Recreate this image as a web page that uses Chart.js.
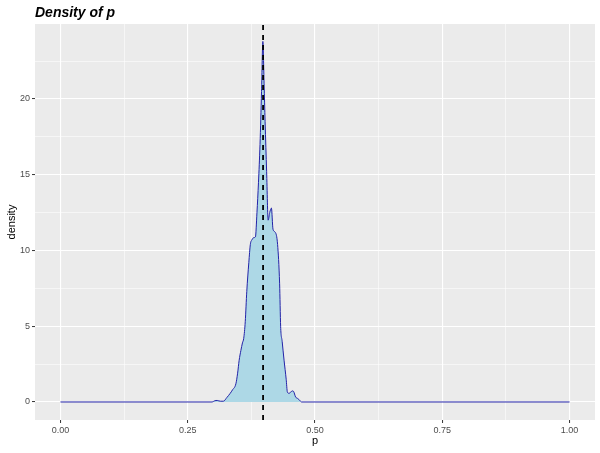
<!DOCTYPE html>
<html>
<head>
<meta charset="utf-8">
<script src="https://cdn.jsdelivr.net/npm/chart.js@4/dist/chart.umd.min.js"></script>
<style>
html,body{margin:0;padding:0;background:#fff;}
#c{display:block;}
</style>
</head>
<body>
<canvas id="c" width="600" height="453"></canvas>
<script>
// Data
const pValues = [0, 0.298, 0.303, 0.308, 0.314, 0.320, 0.327, 0.333, 0.338, 0.3446, 0.348, 0.351, 0.3544, 0.3575, 0.360, 0.363, 0.366, 0.370, 0.373, 0.376, 0.380, 0.383, 0.386, 0.389, 0.392, 0.395, 0.3976, 0.400, 0.402, 0.405, 0.408, 0.411, 0.4144, 0.4175, 0.422, 0.4265, 0.4305, 0.4325, 0.4355, 0.4392, 0.4434, 0.4457, 0.449, 0.4523, 0.4553, 0.4578, 0.4619, 0.4663, 0.4697, 0.4736, 1.0];
const densityValues = [0, 0, 0.08, 0.1, 0.05, 0.05, 0.3, 0.55, 0.8, 1.2, 1.9, 2.75, 3.4, 3.9, 4.2, 5.3, 7.3, 9.2, 10.4, 10.7, 10.85, 10.9, 12.5, 14.5, 17.0, 20.5, 23.8, 21.0, 18.5, 15.2, 12.0, 12.5, 12.8, 11.4, 11.2, 10.4, 7.8, 5.0, 4.0, 2.76, 1.5, 0.66, 0.57, 0.65, 0.73, 0.7, 0.33, 0.22, 0.12, 0, 0];
const vlineP = 0.398;
const xTickValues = [0, 0.125, 0.25, 0.375, 0.5, 0.625, 0.75, 0.875, 1];
const yTickValues = [0, 2.5, 5, 7.5, 10, 12.5, 15, 17.5, 20, 22.5];
const xMajorStep = 0.25;
const yMajorStep = 5;
const titleText = 'Density of p';
const xTitle = 'p';
const yTitle = 'density';

const points = pValues.map((p, i) => ({x: p, y: densityValues[i]}));

const isMajor = (v, step) => Math.abs(v / step - Math.round(v / step)) < 1e-9;

const bgPlugin = {
  id: 'panelBg',
  beforeDraw(chart) {
    const {ctx, chartArea: a} = chart;
    ctx.save();
    ctx.fillStyle = '#EBEBEB';
    ctx.fillRect(a.left, a.top, a.right - a.left, a.bottom - a.top);
    ctx.restore();
  },
  afterDatasetsDraw(chart) {
    const {ctx, chartArea: a, scales} = chart;
    const x = scales.x.getPixelForValue(vlineP);
    ctx.save();
    ctx.beginPath();
    ctx.rect(a.left, a.top, a.right - a.left, a.bottom - a.top);
    ctx.clip();
    ctx.strokeStyle = '#000000';
    ctx.lineWidth = 1.8;
    ctx.setLineDash([5, 5]);
    ctx.beginPath();
    ctx.moveTo(x, a.bottom);
    ctx.lineTo(x, a.top);
    ctx.stroke();
    ctx.restore();
  },
  afterDraw(chart) {
    const {ctx, chartArea: a} = chart;
    ctx.save();
    ctx.font = 'italic bold 14px "Liberation Sans", Arial, sans-serif';
    ctx.fillStyle = '#000000';
    ctx.textBaseline = 'alphabetic';
    ctx.textAlign = 'left';
    ctx.fillText(titleText, a.left, 17);
    ctx.restore();
  }
};

new Chart(document.getElementById('c'), {
  type: 'line',
  data: {
    datasets: [{
      data: points,
      borderColor: '#2323a8',
      borderWidth: 1,
      backgroundColor: '#ADD8E6',
      fill: 'origin',
      pointRadius: 0,
      tension: 0,
      cubicInterpolationMode: 'monotone'
    }]
  },
  options: {
    responsive: false,
    animation: false,
    events: [],
    layout: {padding: {top: 24, right: 5, left: 0, bottom: 0}},
    plugins: {legend: {display: false}, tooltip: {enabled: false}, title: {display: false}},
    scales: {
      x: {
        type: 'linear',
        min: -0.05,
        max: 1.05,
        afterBuildTicks(s) { s.ticks = xTickValues.map(v => ({value: v})); },
        afterFit(s) { s.height = 33; },
        border: {display: false},
        grid: {
          color: '#FFFFFF',
          lineWidth: (c) => isMajor(c.tick.value, xMajorStep) ? 1.1 : 0.55,
          tickColor: (c) => isMajor(c.tick.value, xMajorStep) ? '#333333' : 'rgba(0,0,0,0)',
          tickWidth: 1,
          tickLength: 3,
          drawTicks: true
        },
        ticks: {
          autoSkip: false,
          maxRotation: 0,
          padding: 2,
          color: '#4D4D4D',
          font: {family: '"Liberation Sans", Arial, sans-serif', size: 9},
          callback: (v) => isMajor(v, xMajorStep) ? v.toFixed(2) : ''
        },
        title: {
          display: true,
          text: xTitle,
          color: '#000000',
          font: {family: '"Liberation Sans", Arial, sans-serif', size: 11},
          padding: {top: 5, bottom: 5}
        }
      },
      y: {
        type: 'linear',
        min: -1.19,
        max: 24.95,
        afterBuildTicks(s) { s.ticks = yTickValues.map(v => ({value: v})); },
        afterFit(s) { s.width = 35; },
        border: {display: false},
        grid: {
          color: '#FFFFFF',
          lineWidth: (c) => isMajor(c.tick.value, yMajorStep) ? 1.1 : 0.55,
          tickColor: (c) => isMajor(c.tick.value, yMajorStep) ? '#333333' : 'rgba(0,0,0,0)',
          tickWidth: 1,
          tickLength: 3,
          drawTicks: true
        },
        ticks: {
          autoSkip: false,
          padding: 2,
          color: '#4D4D4D',
          font: {family: '"Liberation Sans", Arial, sans-serif', size: 9},
          callback: (v) => isMajor(v, yMajorStep) ? String(v) : ''
        },
        title: {
          display: true,
          text: yTitle,
          color: '#000000',
          font: {family: '"Liberation Sans", Arial, sans-serif', size: 11},
          padding: {top: 5, bottom: 5}
        }
      }
    }
  },
  plugins: [bgPlugin]
});
</script>
</body>
</html>
